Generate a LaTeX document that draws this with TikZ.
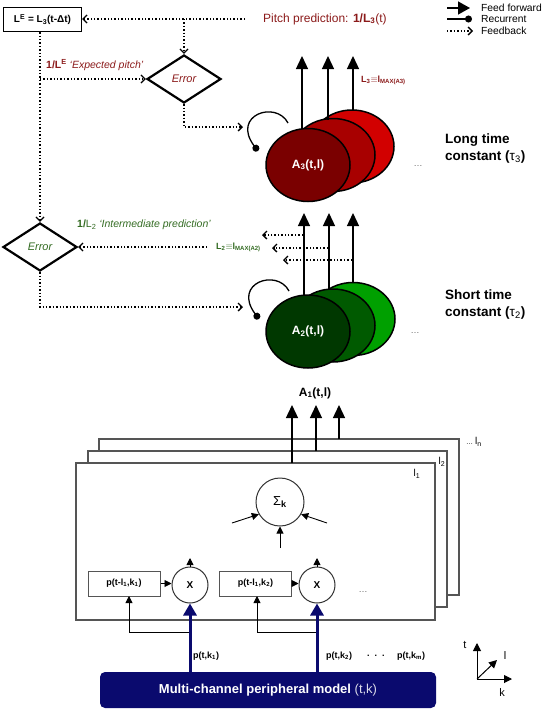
\documentclass[tikz,border=0pt]{standalone}
\usepackage{fontspec}
\setmainfont{Liberation Sans}
\usetikzlibrary{arrows.meta,shapes.geometric,calc}
\definecolor{dred}{HTML}{8B1A1A}
\definecolor{dgreen}{HTML}{336B22}
\definecolor{navy}{HTML}{0A0A6E}
\definecolor{rA}{HTML}{7A0000}
\definecolor{rB}{HTML}{A80000}
\definecolor{rC}{HTML}{D20000}
\definecolor{gA}{HTML}{003800}
\definecolor{gB}{HTML}{005A00}
\definecolor{gC}{HTML}{00A000}
\definecolor{boxgray}{HTML}{555555}
\begin{document}
\begin{tikzpicture}[x=1pt,y=-1pt,
  ff/.style={line width=1.3pt,-{Triangle[length=13pt,width=12pt]}},
  fb/.style={line width=1.4pt,dotted,-{Straight Barb[length=4pt,width=8pt,line width=1.3pt]}},
  rec/.style={line width=1.3pt,-{Circle[length=7pt]}},
  sm/.style={line width=0.9pt,-{Triangle[length=7pt,width=7pt]}},
  bluearr/.style={navy,line width=3pt,-{Triangle[length=12pt,width=13pt]}},
  ax/.style={line width=1pt,-{Triangle[length=8pt,width=8pt]}},
  dia/.style={diamond,draw,line width=2.2pt,minimum width=74pt,minimum height=48pt,inner sep=0pt,font=\fontsize{11}{13}\selectfont\itshape},
  ell/.style={ellipse,draw,line width=1.5pt,minimum width=84pt,minimum height=73pt,inner sep=0pt},
  lbox/.style={draw=boxgray,line width=1.3pt,fill=white,inner sep=0pt},
  pbox/.style={draw=boxgray,line width=1pt,fill=white,minimum width=72pt,minimum height=25pt,inner sep=0pt,font=\fontsize{9}{11}\selectfont\bfseries},
  circ/.style={circle,draw=black!80,line width=1pt,inner sep=0pt},
  lab/.style={inner sep=0pt,font=\fontsize{9}{11}\selectfont},
  legt/.style={inner sep=0pt,anchor=west,font=\fontsize{10.3}{12}\selectfont}
]
\useasboundingbox (0,0) rectangle (545,710);

% ---------- legend ----------
\coordinate (lg1a) at (447,8);  \coordinate (lg1b) at (470,8);
\coordinate (lg2a) at (447,19); \coordinate (lg2b) at (472,19);
\coordinate (lg3a) at (447,31); \coordinate (lg3b) at (473,31);
\draw[line width=1.3pt,-{Triangle[length=12pt,width=13pt]}] (lg1a) -- (lg1b);
\draw[rec] (lg2a) -- (lg2b);
\draw[fb] (lg3a) -- (lg3b);
\node[legt] (lt1) at (481,8) {Feed forward};
\node[legt] (lt2) at (481,19.5) {Recurrent};
\node[legt] (lt3) at (481,31) {Feedback};

% ---------- top feedback ----------
\node[draw,line width=1.3pt,minimum width=78pt,minimum height=24pt,inner sep=0pt,font=\fontsize{10}{12}\selectfont\bfseries] (le) at (42.5,19.5) {L\textsuperscript{E} = L\textsubscript{3}(t-Δt)};
\node[lab,anchor=west,text=dred,font=\fontsize{12}{14}\selectfont] (pitch) at (263,19) {Pitch prediction: \textbf{1/L\textsubscript{3}}(t)};
\coordinate (pp) at (245,19);
\draw[fb] (pp) -- (le.east |- pp);

\node[dia,text=dred] (err1) at (184,79) {Error};
\draw[fb] (err1.north |- pp) -- (err1.north);

\node[dia,text=dgreen] (err2) at (40,247) {Error};
\draw[fb] (le.south -| err2.north) -- (err2.north);
\draw[fb] (err1.west -| err2.north) -- (err1.west);
\node[lab,anchor=west,text=dred,font=\fontsize{10.5}{12}\selectfont] (ep) at (46,65) {\textbf{1/L\textsuperscript{E}} \textit{`Expected pitch'}};

% ---------- red ellipses (A3) ----------
\node[ell,fill=rC] (r3) at (352,146.5) {};
\node[ell,fill=rB] (r2) at (333,155) {};
\node[ell,fill=rA,text=white,font=\fontsize{12}{14}\selectfont\bfseries] (r1) at (308,165) {A\textsubscript{3}(t,l)};
\coordinate (ra1) at (302,129); \coordinate (ra1t) at (302,56);
\coordinate (ra2) at (328,119.5); \coordinate (ra2t) at (328,56);
\coordinate (ra3) at (353,110); \coordinate (ra3t) at (353,56);
\draw[ff] (ra1) -- (ra1t);
\draw[ff] (ra2) -- (ra2t);
\draw[ff] (ra3) -- (ra3t);
\node[lab,anchor=west,text=dred,font=\fontsize{9}{11}\selectfont\bfseries] (l3) at (361,80) {L\textsubscript{3}$\equiv$l\textsubscript{MAX(A3)}};
\node[lab,text=black!60] (dots3) at (418,166) {\dots};
\coordinate (loop3s) at (288,123);
\coordinate (loop3e) at (258,151);
\draw[rec] (loop3s) .. controls (276,100) and (231,115) .. (loop3e);
\coordinate (loop3in) at (243,127);
\draw[fb] (err1.south) |- (loop3in);
\node[lab,anchor=west,align=left,font=\fontsize{13.5}{16.5}\selectfont\bfseries] (ltc) at (445,148.5) {Long time\\constant (\mdseries τ\textsubscript{3}\bfseries)};

% ---------- green ellipses (A2) ----------
\node[ell,fill=gC] (g3) at (353,319) {};
\node[ell,fill=gB] (g2) at (333,325.5) {};
\node[ell,fill=gA,text=white,font=\fontsize{12}{14}\selectfont\bfseries] (g1) at (308,331.5) {A\textsubscript{2}(t,l)};
\coordinate (ga1) at (304,295.5); \coordinate (ga1t) at (304,213);
\coordinate (ga2) at (329,289.5); \coordinate (ga2t) at (329,213);
\coordinate (ga3) at (353,283); \coordinate (ga3t) at (353,213);
\draw[ff] (ga1) -- (ga1t);
\draw[ff] (ga2) -- (ga2t);
\draw[ff] (ga3) -- (ga3t);
\coordinate (fd1s) at (303,235); \coordinate (fd1e) at (262,235);
\coordinate (fd2s) at (328,248); \coordinate (fd2e) at (272,248);
\coordinate (fd3s) at (352,260); \coordinate (fd3e) at (283,260);
\draw[fb] (fd1s) -- (fd1e);
\draw[fb] (fd2s) -- (fd2e);
\draw[fb] (fd3s) -- (fd3e);
\node[lab,anchor=west,text=dgreen,font=\fontsize{9}{11}\selectfont\bfseries] (l2) at (216,247) {L\textsubscript{2}$\equiv$l\textsubscript{MAX(A2)}};
\coordinate (l2s) at (207,247);
\draw[fb] (l2s) -- (err2.east);
\node[lab,anchor=west,text=dgreen,font=\fontsize{10.5}{12}\selectfont] (ip) at (77,225) {\textbf{1/}L\textsubscript{2} \textit{`Intermediate prediction'}};
\node[lab,text=black!60] (dots2) at (415,333) {\dots};
\coordinate (loop2s) at (289,291);
\coordinate (loop2e) at (259,319);
\draw[rec] (loop2s) .. controls (277,268) and (232,283) .. (loop2e);
\coordinate (loop2in) at (243,307);
\draw[fb] (err2.south) |- (loop2in);
\node[lab,anchor=west,align=left,font=\fontsize{13.5}{16.5}\selectfont\bfseries] (stc) at (445,304.5) {Short time\\constant (\mdseries τ\textsubscript{2}\bfseries)};

% ---------- stacked boxes (A1) ----------
\node[lbox,minimum width=360pt,minimum height=156pt] (bn) at (279,517) {};
\node[lbox,minimum width=359pt,minimum height=156pt] (bm) at (267.5,529) {};
\node[lbox,minimum width=359pt,minimum height=157pt] (bf) at (255.5,541.5) {};
\node[lab,anchor=west,font=\fontsize{10}{12}\selectfont] (ln) at (466,442) {\fontsize{7}{9}\selectfont\dots\ \fontsize{10}{12}\selectfont l\textsubscript{n}};
\node[lab,font=\fontsize{10}{12}\selectfont] (lb2) at (442,462) {l\textsubscript{2}};
\node[lab,font=\fontsize{10}{12}\selectfont] (lb1) at (417,474) {l\textsubscript{1}};

\coordinate (aa1) at (292,463); \coordinate (aa1t) at (292,405);
\coordinate (aa2) at (316,451); \coordinate (aa2t) at (316,405);
\coordinate (aa3) at (339,439); \coordinate (aa3t) at (339,405);
\draw[ff] (aa1) -- (aa1t);
\draw[ff] (aa2) -- (aa2t);
\draw[ff] (aa3) -- (aa3t);
\node[lab,font=\fontsize{12}{14}\selectfont\bfseries] (a1) at (315,393) {A\textsubscript{1}(t,l)};

\node[circ,minimum size=48pt,font=\fontsize{13}{15}\selectfont] (sig) at (280,502) {Σ\textsubscript{\textbf{k}}};
\coordinate (si1) at (232,523); \coordinate (si2) at (327,523); \coordinate (si3) at (280,548);
\draw[sm] (si1) -- (sig.210);
\draw[sm] (si2) -- (sig.330);
\draw[sm] (si3) -- (sig.south);

\node[pbox] (p1) at (124,583.5) {p(t-l\textsubscript{1},k\textsubscript{1})};
\node[pbox] (p2) at (255.5,583.5) {p(t-l\textsubscript{1},k\textsubscript{2})};
\node[circ,minimum size=36pt,font=\fontsize{10}{12}\selectfont\bfseries] (x1) at (190,585) {X};
\node[circ,minimum size=36pt,font=\fontsize{10}{12}\selectfont\bfseries] (x2) at (317,585) {X};
\draw[sm] (p1.east) -- (x1.west |- p1.east);
\draw[sm] (p2.east) -- (x2.west |- p2.east);
\coordinate (xo1) at (190,558); \coordinate (xo2) at (317,558);
\draw[sm] (x1.north) -- (xo1);
\draw[sm] (x2.north) -- (xo2);
\node[lab,text=black!60] (dotsx) at (363,592) {\dots};

% ---------- peripheral model ----------
\node[fill=navy,rounded corners=5pt,minimum width=336pt,minimum height=36pt,inner sep=0pt,text=white,font=\fontsize{13}{15}\selectfont] (mc) at (268,690) {\textbf{Multi-channel peripheral model} \textcolor{white!85!navy}{(t,k)}};
\coordinate (b1) at (190,632); \coordinate (b2) at (317,632);
\coordinate (p1in) at (129,596); \coordinate (p2in) at (257,596);
\draw[sm] (b1) -| (p1in);
\draw[sm] (b2) -| (p2in);
\draw[bluearr] (mc.north -| x1.south) -- (x1.south);
\draw[bluearr] (mc.north -| x2.south) -- (x2.south);
\node[lab,anchor=west,font=\fontsize{9}{11}\selectfont\bfseries] (pk1) at (193,656) {p(t,k\textsubscript{1})};
\node[lab,anchor=west,font=\fontsize{9}{11}\selectfont\bfseries] (pk2) at (326,656) {p(t,k\textsubscript{2})};
\node[lab,anchor=west,font=\fontsize{9}{11}\selectfont\bfseries] (pkd) at (367,656) {.\ \ .\ \ .};
\node[lab,anchor=west,font=\fontsize{9}{11}\selectfont\bfseries] (pkm) at (397,656) {p(t,k\textsubscript{m})};

% ---------- axes ----------
\coordinate (o) at (477,679);
\coordinate (ot) at (477,643);
\coordinate (ok) at (512,679);
\coordinate (ol) at (497,660);
\draw[ax] (o) -- (ot);
\draw[ax] (o) -- (ok);
\draw[ax] (o) -- (ol);
\node[lab,font=\fontsize{11}{13}\selectfont] (tt) at (465,645) {t};
\node[lab,font=\fontsize{11}{13}\selectfont] (tl) at (505,656) {l};
\node[lab,font=\fontsize{11}{13}\selectfont] (tk) at (502,693) {k};
\end{tikzpicture}
\end{document}
